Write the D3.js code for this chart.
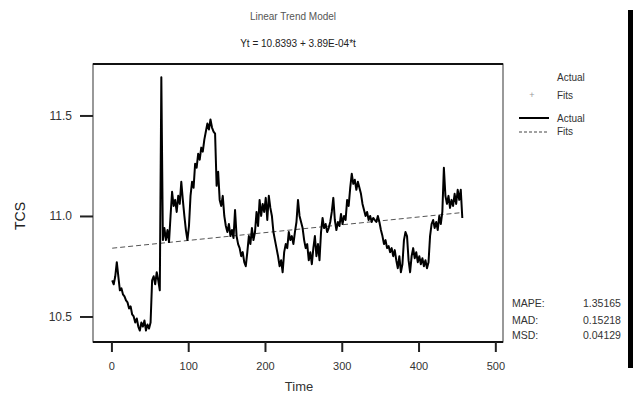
<!DOCTYPE html>
<html>
<head>
<meta charset="utf-8">
<script src="https://cdn.jsdelivr.net/npm/d3@7"></script>
<style>
  body { margin: 0; background: #fff; }
  svg { display: block; font-family: "Liberation Sans", Arial, sans-serif; }
  .axis text { fill: #333; }
  .axis line { stroke: #222; stroke-width: 2; }
</style>
</head>
<body>
<div id="chart"></div>
<script>
// actual TCS values, read every second time step (t = 1, 3, 5, ... 457)
const tcs = [
  10.68, 10.66, 10.70, 10.77, 10.70, 10.63, 10.64, 10.61, 10.60, 10.58,
  10.57, 10.54, 10.55, 10.51, 10.50, 10.47, 10.49, 10.45, 10.43, 10.47,
  10.45, 10.48, 10.43, 10.46, 10.44, 10.47, 10.68, 10.70, 10.66, 10.72,
  10.68, 10.63, 11.69, 10.88, 10.94, 10.88, 10.93, 10.87, 11.00, 11.12,
  11.05, 11.08, 11.02, 11.10, 11.06, 11.17, 11.08, 11.00, 10.93, 10.88,
  10.95, 11.10, 11.17, 11.14, 11.26, 11.24, 11.31, 11.28, 11.34, 11.32,
  11.38, 11.42, 11.46, 11.43, 11.48, 11.44, 11.42, 11.41, 11.15, 11.22,
  11.08, 11.05, 11.10, 11.00, 10.95, 10.92, 10.96, 10.90, 10.93, 10.89,
  11.03, 10.90, 10.86, 10.84, 10.80, 10.82, 10.77, 10.75, 10.82, 10.90,
  10.86, 10.94, 10.88, 10.92, 11.02, 10.95, 11.08, 11.00, 11.06, 11.02,
  11.09, 10.98, 11.10, 11.04, 11.00, 10.92, 10.88, 10.84, 10.80, 10.75,
  10.78, 10.72, 10.82, 10.86, 10.84, 10.92, 10.88, 10.90, 10.86, 10.92,
  10.97, 11.08, 11.00, 10.97, 10.94, 10.88, 10.84, 10.86, 10.78, 10.82,
  10.76, 10.84, 10.90, 10.80, 10.86, 10.78, 10.92, 10.99, 10.94, 10.96,
  10.92, 10.94, 10.97, 11.02, 11.09, 10.98, 10.93, 10.97, 10.95, 11.01,
  10.96, 11.00, 10.98, 11.08, 11.05, 11.14, 11.21, 11.16, 11.18, 11.13,
  11.17, 11.14, 11.11, 11.06, 11.03, 11.00, 11.02, 10.98, 11.00, 10.97,
  10.99, 10.98, 10.97, 11.00, 10.97, 10.93, 10.90, 10.86, 10.88, 10.84,
  10.85, 10.82, 10.84, 10.80, 10.83, 10.78, 10.74, 10.80, 10.72, 10.76,
  10.88, 10.92, 10.90, 10.78, 10.72, 10.80, 10.84, 10.79, 10.82, 10.77,
  10.80, 10.76, 10.79, 10.75, 10.78, 10.74, 10.77, 10.90, 10.96, 10.98,
  10.94, 10.97, 10.93, 11.00, 10.96, 11.02, 11.24, 11.10, 11.06, 11.10,
  11.04, 11.08, 11.05, 11.11, 11.06, 11.13, 11.08, 11.13, 10.99
];
const tStep = 2;

// trend model Yt = b0 + b1*t
const b0 = 10.8393, b1 = 3.89e-4;

const xTicks = [0, 100, 200, 300, 400, 500];
const yTicks = [10.5, 11.0, 11.5];
const accuracy = [
  {name: "MAPE:", value: "1.35165"},
  {name: "MAD:", value: "0.15218"},
  {name: "MSD:", value: "0.04129"}
];

const width = 633, height = 396;
const frame = {left: 93, right: 503, top: 64, bottom: 342};

const svg = d3.select("#chart").append("svg")
  .attr("width", width)
  .attr("height", height);

const x = d3.scaleLinear().domain([-24, 510]).range([frame.left, frame.right]);
const y = d3.scaleLinear().domain([10.373, 11.756]).range([frame.bottom, frame.top]);

const actual = tcs.map((v, i) => ({t: 1 + i * tStep, v: v}));
const nLast = actual[actual.length - 1].t;
const fits = [1, nLast].map(t => ({t: t, v: b0 + b1 * t}));

// titles
svg.append("text")
  .attr("x", 293).attr("y", 20)
  .attr("text-anchor", "middle")
  .attr("font-size", 10).attr("fill", "#555")
  .text("Linear Trend Model");
svg.append("text")
  .attr("x", 298).attr("y", 47)
  .attr("text-anchor", "middle")
  .attr("font-size", 10).attr("fill", "#222")
  .text("Yt = 10.8393 + 3.89E-04*t");

// plot frame
svg.append("rect")
  .attr("x", frame.left).attr("y", frame.top)
  .attr("width", frame.right - frame.left)
  .attr("height", frame.bottom - frame.top)
  .attr("fill", "none").attr("stroke", "#555").attr("stroke-width", 1.2);
[frame.top, frame.bottom].forEach(yy => {
  svg.append("line")
    .attr("x1", frame.left).attr("x2", frame.right)
    .attr("y1", yy).attr("y2", yy)
    .attr("stroke", "#111").attr("stroke-width", 2);
});

// axes
const xAxis = svg.append("g")
  .attr("class", "axis")
  .attr("transform", `translate(0,${frame.bottom})`)
  .call(d3.axisBottom(x).tickValues(xTicks).tickFormat(d3.format("d"))
    .tickSizeInner(10).tickSizeOuter(0).tickPadding(10));
xAxis.select(".domain").remove();
xAxis.selectAll("text").attr("font-size", 11);

const yAxis = svg.append("g")
  .attr("class", "axis")
  .attr("transform", `translate(${frame.left},0)`)
  .call(d3.axisLeft(y).tickValues(yTicks).tickFormat(d3.format(".1f"))
    .tickSizeInner(13).tickSizeOuter(0).tickPadding(8));
yAxis.select(".domain").remove();
yAxis.selectAll("text").attr("font-size", 12);

svg.append("text")
  .attr("x", 299).attr("y", 391)
  .attr("text-anchor", "middle")
  .attr("font-size", 13).attr("fill", "#333")
  .text("Time");
svg.append("text")
  .attr("transform", "translate(25,216) rotate(-90)")
  .attr("text-anchor", "middle")
  .attr("font-size", 14).attr("fill", "#222")
  .text("TCS");

// fitted trend
svg.append("path")
  .datum(fits)
  .attr("fill", "none")
  .attr("stroke", "#555")
  .attr("stroke-width", 1)
  .attr("stroke-dasharray", "5,3")
  .attr("d", d3.line().x(d => x(d.t)).y(d => y(d.v)));

// actual series
svg.append("path")
  .datum(actual)
  .attr("fill", "none")
  .attr("stroke", "#000")
  .attr("stroke-width", 2)
  .attr("stroke-linejoin", "round")
  .attr("d", d3.line().x(d => x(d.t)).y(d => y(d.v)));

// legend
const legend = svg.append("g").attr("font-size", 10).attr("fill", "#333");
legend.append("text").attr("x", 557).attr("y", 81).text("Actual");
legend.append("text").attr("x", 532).attr("y", 98)
  .attr("text-anchor", "middle").attr("fill", "#999").attr("font-size", 9).text("+");
legend.append("text").attr("x", 557).attr("y", 99).text("Fits");
legend.append("line").attr("x1", 519).attr("x2", 549).attr("y1", 118).attr("y2", 118)
  .attr("stroke", "#000").attr("stroke-width", 2);
legend.append("text").attr("x", 557).attr("y", 122).text("Actual");
legend.append("line").attr("x1", 519).attr("x2", 549).attr("y1", 132).attr("y2", 132)
  .attr("stroke", "#444").attr("stroke-width", 1).attr("stroke-dasharray", "3,2");
legend.append("text").attr("x", 557).attr("y", 135).text("Fits");

// accuracy measures
const acc = svg.append("g").attr("font-size", 10.5).attr("fill", "#333");
[307, 324, 339].forEach((yy, i) => {
  acc.append("text").attr("x", 512).attr("y", yy).text(accuracy[i].name);
  acc.append("text").attr("x", 583).attr("y", yy).text(accuracy[i].value);
});

// black edge on the right
svg.append("rect")
  .attr("x", 628).attr("y", 10)
  .attr("width", 5).attr("height", 358)
  .attr("fill", "#000");
</script>
</body>
</html>
